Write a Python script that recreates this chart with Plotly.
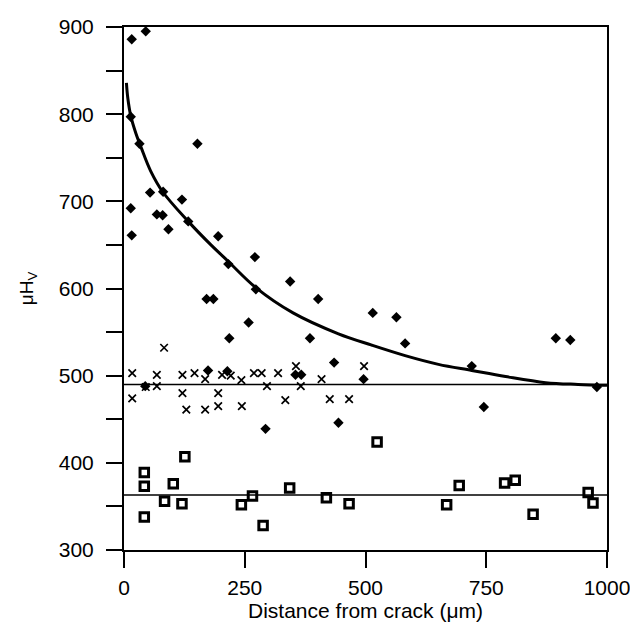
import plotly.graph_objects as go

# Diamonds (filled)
dia_x = [16, 45, 14, 32, 152, 54, 81, 120, 14, 68, 80, 133, 92, 16, 195, 216, 271, 273, 344,
         171, 185, 402, 258, 218, 385, 435, 174, 214, 355, 367, 293, 444, 515, 564, 582, 720,
         496, 745, 894, 924, 979, 44]
dia_y = [886, 895, 797, 766, 766, 710, 711, 702, 692, 685, 684, 677, 668, 661, 660, 628, 636, 599, 608,
         588, 588, 588, 561, 543, 543, 515, 506, 505, 501, 501, 439, 446, 572, 567, 537, 511,
         496, 464, 543, 541, 487, 488]

# Crosses
crs_x = [17, 17, 68, 68, 45, 83, 121, 121, 129, 146, 168, 168, 195, 195, 203, 221, 243, 244,
         269, 285, 296, 319, 334, 356, 366, 409, 426, 466, 497]
crs_y = [503, 474, 501, 488, 487, 532, 501, 480, 461, 503, 496, 461, 480, 465, 501, 500, 495, 465,
         503, 503, 488, 503, 472, 511, 488, 496, 473, 473, 511]

# Open squares
sq_x = [42, 42, 42, 84, 102, 120, 126, 243, 266, 288, 343, 419, 466, 524, 668, 694, 788, 810,
        847, 961, 971]
sq_y = [389, 373, 338, 356, 376, 353, 407, 352, 362, 328, 371, 360, 353, 424, 352, 374, 377, 380,
        341, 366, 354]

# Fitted decay curve
fit_x = [5, 8, 14, 24, 36, 55, 80, 133, 180, 216, 273, 350, 444, 513, 582, 651, 720, 790, 873, 940, 1000]
fit_y = [836, 818, 798, 779, 761, 735, 711, 677, 650, 631, 601, 572, 548, 535, 523, 513, 506, 499, 492, 490, 489]

# Mean lines
mean_x = [0, 1000]
cross_mean = [490, 490]
square_mean = [363, 363]

fig = go.Figure()
fig.add_trace(go.Scatter(x=mean_x, y=cross_mean, mode="lines",
                         line=dict(color="black", width=1.5), showlegend=False))
fig.add_trace(go.Scatter(x=mean_x, y=square_mean, mode="lines",
                         line=dict(color="black", width=1.5), showlegend=False))
fig.add_trace(go.Scatter(x=fit_x, y=fit_y, mode="lines",
                         line=dict(color="black", width=3, shape="spline", smoothing=1.0),
                         showlegend=False))
fig.add_trace(go.Scatter(x=dia_x, y=dia_y, mode="markers",
                         marker=dict(symbol="diamond", size=8, color="black"), showlegend=False))
fig.add_trace(go.Scatter(x=crs_x, y=crs_y, mode="markers",
                         marker=dict(symbol="x-thin-open", size=7.5, color="black",
                                     line=dict(color="black", width=1.7)), showlegend=False))
fig.add_trace(go.Scatter(x=sq_x, y=sq_y, mode="markers",
                         marker=dict(symbol="square-open", size=8.5, color="black",
                                     line=dict(color="black", width=3)), showlegend=False))

font = "Liberation Sans, Arial, sans-serif"
fig.update_layout(
    width=638, height=624,
    margin=dict(l=116, r=39, t=19, b=82, autoexpand=False),
    plot_bgcolor="white", paper_bgcolor="white",
    font=dict(family=font, size=21, color="black"),
    xaxis=dict(range=[0, 1000], tickvals=[0, 250, 500, 750, 1000],
               ticks="outside", ticklen=16, tickwidth=1.5, tickcolor="black",
               ticklabelstandoff=2, automargin=False,
               showline=True, linecolor="black", linewidth=2, mirror=True,
               showgrid=False, zeroline=False,
               title=dict(text="Distance from crack (μm)", font=dict(size=21), standoff=2)),
    yaxis=dict(range=[300, 900], tickvals=[300, 400, 500, 600, 700, 800, 900],
               ticks="outside", ticklen=16, tickwidth=1.5, tickcolor="black",
               ticklabelstandoff=8, automargin=False,
               minor=dict(ticks="outside", ticklen=16, tickwidth=1.5, tickcolor="black",
                          tickvals=[350, 450, 550, 650, 750, 850]),
               showline=True, linecolor="black", linewidth=2, mirror=True,
               showgrid=False, zeroline=False,
               title=dict(text="μH<sub>V</sub>", font=dict(size=19), standoff=20)),
)

fig.write_html("out.html")
